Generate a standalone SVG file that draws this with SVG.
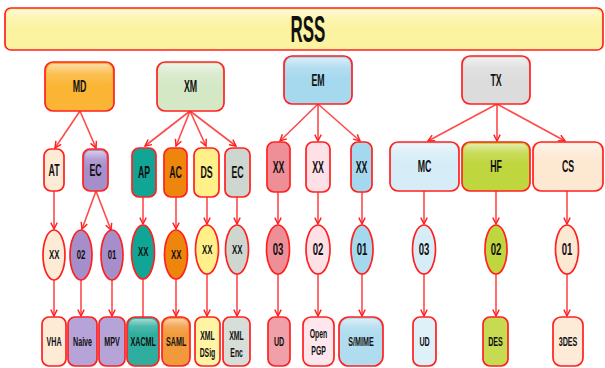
<svg xmlns="http://www.w3.org/2000/svg" width="605" height="368" viewBox="0 0 605 368">
<defs>
<linearGradient id="gloss" x1="0" y1="0" x2="0" y2="1">
<stop offset="0" stop-color="#fff" stop-opacity="0.55"/>
<stop offset="0.45" stop-color="#fff" stop-opacity="0.15"/>
<stop offset="1" stop-color="#fff" stop-opacity="0"/>
</linearGradient>
<marker id="ah" viewBox="0 0 10 10" refX="9" refY="5" markerWidth="8" markerHeight="8" markerUnits="userSpaceOnUse" orient="auto">
<path d="M1,1 L9,5 L1,9" fill="none" stroke="#ff2020" stroke-width="1.8"/>
</marker>
</defs>
<style>
.n{stroke:#ff2020;stroke-width:1.7}
.g{fill:url(#gloss);stroke:none}
text{font-family:"Liberation Sans",Arial,sans-serif;font-weight:bold;fill:#111;text-anchor:middle;transform-box:fill-box;transform-origin:center;transform:scaleX(0.55)}
.t1{font-size:16px}
.t2{font-size:16px;transform:scaleX(0.6)}
.t4{font-size:13px;transform:scaleX(0.6)}
.t3{font-size:13px}
.t5{font-size:12.5px}
.big{font-size:36px;transform:scaleX(0.47)}
#conn line{stroke:#ff2a2a;stroke-width:1.6;stroke-opacity:0.85}
</style>
<rect width="605" height="368" fill="#fff"/>

<g id="conn">
<line x1="80" y1="111" x2="55" y2="148" marker-end="url(#ah)"/>
<line x1="80" y1="111" x2="96" y2="148" marker-end="url(#ah)"/>
<line x1="190" y1="111" x2="145" y2="146" marker-end="url(#ah)"/>
<line x1="190" y1="111" x2="176" y2="146" marker-end="url(#ah)"/>
<line x1="190" y1="111" x2="206" y2="146" marker-end="url(#ah)"/>
<line x1="190" y1="111" x2="236" y2="146" marker-end="url(#ah)"/>
<line x1="318" y1="104" x2="280" y2="141" marker-end="url(#ah)"/>
<line x1="318" y1="104" x2="318" y2="141" marker-end="url(#ah)"/>
<line x1="318" y1="104" x2="360" y2="141" marker-end="url(#ah)"/>
<line x1="497" y1="104" x2="428" y2="141" marker-end="url(#ah)"/>
<line x1="497" y1="104" x2="497" y2="141" marker-end="url(#ah)"/>
<line x1="497" y1="104" x2="565" y2="141" marker-end="url(#ah)"/>
<line x1="54" y1="191" x2="54" y2="229" marker-end="url(#ah)"/>
<line x1="96" y1="191" x2="82" y2="229" marker-end="url(#ah)"/>
<line x1="96" y1="191" x2="111" y2="230" marker-end="url(#ah)"/>
<line x1="143" y1="197" x2="143" y2="224" marker-end="url(#ah)"/>
<line x1="176" y1="197" x2="176" y2="229" marker-end="url(#ah)"/>
<line x1="207" y1="197" x2="207" y2="224" marker-end="url(#ah)"/>
<line x1="237" y1="197" x2="237" y2="224" marker-end="url(#ah)"/>
<line x1="278" y1="192" x2="278" y2="224" marker-end="url(#ah)"/>
<line x1="318" y1="192" x2="318" y2="224" marker-end="url(#ah)"/>
<line x1="362" y1="192" x2="362" y2="224" marker-end="url(#ah)"/>
<line x1="424" y1="191" x2="424" y2="224" marker-end="url(#ah)"/>
<line x1="496" y1="191" x2="496" y2="224" marker-end="url(#ah)"/>
<line x1="567" y1="191" x2="567" y2="224" marker-end="url(#ah)"/>
<line x1="54" y1="280" x2="54" y2="316" marker-end="url(#ah)"/>
<line x1="81" y1="280" x2="81" y2="316" marker-end="url(#ah)"/>
<line x1="112" y1="280" x2="112" y2="316" marker-end="url(#ah)"/>
<line x1="143" y1="279" x2="143" y2="317"/>
<line x1="176" y1="279" x2="176" y2="316" marker-end="url(#ah)"/>
<line x1="207" y1="274" x2="207" y2="316" marker-end="url(#ah)"/>
<line x1="237" y1="274" x2="237" y2="316" marker-end="url(#ah)"/>
<line x1="278" y1="274" x2="278" y2="316" marker-end="url(#ah)"/>
<line x1="318" y1="274" x2="318" y2="316" marker-end="url(#ah)"/>
<line x1="362" y1="274" x2="362" y2="316" marker-end="url(#ah)"/>
<line x1="424" y1="274" x2="424" y2="316" marker-end="url(#ah)"/>
<line x1="496" y1="274" x2="496" y2="316" marker-end="url(#ah)"/>
<line x1="567" y1="274" x2="567" y2="316" marker-end="url(#ah)"/>
</g>

<g id="rss"><rect class="n" x="5" y="8" width="598" height="42" rx="6" fill="#fbf3a0"/><rect class="g" x="7" y="10" width="594" height="20" rx="5"/><text class="big" x="308" y="42">RSS</text></g>

<g id="md"><rect class="n" x="45" y="62" width="69" height="49" rx="8" fill="#fbb534"/><rect class="g" x="47" y="64" width="65" height="22" rx="6"/><text class="t1" x="79.5" y="92.5">MD</text></g>
<g id="xm"><rect class="n" x="157" y="62" width="67" height="49" rx="8" fill="#d4e8c6"/><rect class="g" x="159" y="64" width="63" height="22" rx="6"/><text class="t1" x="190.5" y="92.5">XM</text></g>
<g id="em"><rect class="n" x="284" y="56" width="68" height="48" rx="8" fill="#a6d8ee"/><rect class="g" x="286" y="58" width="64" height="22" rx="6"/><text class="t1" x="318" y="86">EM</text></g>
<g id="tx"><rect class="n" x="462" y="56" width="68" height="48" rx="8" fill="#dcdcdc"/><rect class="g" x="464" y="58" width="64" height="22" rx="6"/><text class="t1" x="496" y="86">TX</text></g>

<g id="at"><rect class="n" x="44" y="149" width="20" height="42" rx="7" fill="#fdebd6"/><text class="t1" x="54" y="176">AT</text></g>
<g id="ec1"><rect class="n" x="83" y="149" width="25" height="42" rx="7" fill="#a68ecb"/><rect class="g" x="85" y="151" width="21" height="18" rx="5"/><text class="t1" x="95.5" y="176">EC</text></g>
<g id="ap"><rect class="n" x="132" y="148" width="24" height="49" rx="7" fill="#10a594"/><text class="t1" x="144" y="178.5">AP</text></g>
<g id="ac"><rect class="n" x="164" y="148" width="23" height="49" rx="7" fill="#ee850c"/><text class="t1" x="175.5" y="178.5">AC</text></g>
<g id="ds"><rect class="n" x="194" y="148" width="25" height="49" rx="7" fill="#fff08a"/><text class="t1" x="206.5" y="178.5">DS</text></g>
<g id="ec2"><rect class="n" x="225" y="148" width="25" height="49" rx="7" fill="#cdd6cf"/><text class="t1" x="237.5" y="178.5">EC</text></g>
<g id="xx1"><rect class="n" x="267" y="142" width="23" height="50" rx="7" fill="#ee8e97"/><text class="t1" x="278.5" y="173">XX</text></g>
<g id="xx2"><rect class="n" x="306" y="142" width="24" height="50" rx="7" fill="#fde1e7"/><text class="t1" x="318" y="173">XX</text></g>
<g id="xx3"><rect class="n" x="351" y="142" width="21" height="50" rx="7" fill="#a4d8ef"/><text class="t1" x="361.5" y="173">XX</text></g>
<g id="mc"><rect class="n" x="390" y="142" width="69" height="49" rx="8" fill="#d6edf7"/><rect class="g" x="392" y="144" width="65" height="20" rx="6"/><text class="t1" x="424.5" y="172.5">MC</text></g>
<g id="hf"><rect class="n" x="462" y="142" width="68" height="49" rx="8" fill="#bfd63e"/><rect class="g" x="464" y="144" width="64" height="20" rx="6"/><text class="t1" x="496" y="172.5">HF</text></g>
<g id="cs"><rect class="n" x="533" y="142" width="70" height="49" rx="8" fill="#fde8d2"/><rect class="g" x="535" y="144" width="66" height="20" rx="6"/><text class="t1" x="568" y="172.5">CS</text></g>

<g id="e1"><ellipse class="n" cx="54" cy="255" rx="11" ry="25" fill="#fdebd6"/><text class="t4" x="54" y="259.5">XX</text></g>
<g id="e2"><ellipse class="n" cx="81" cy="255" rx="11" ry="25" fill="#a68ecb"/><text class="t4" x="81" y="259.5">02</text></g>
<g id="e3"><ellipse class="n" cx="112" cy="255" rx="11" ry="25" fill="#a68ecb"/><text class="t4" x="112" y="259.5">01</text></g>
<g id="e4"><ellipse class="n" cx="143" cy="252" rx="11.5" ry="27" fill="#10a594"/><text class="t4" x="143" y="256.5">XX</text></g>
<g id="e5"><ellipse class="n" cx="176" cy="254.5" rx="11.5" ry="24.5" fill="#ee850c"/><text class="t4" x="176" y="259">XX</text></g>
<g id="e6"><ellipse class="n" cx="207" cy="249.5" rx="11.5" ry="24.5" fill="#fff08a"/><text class="t4" x="207" y="254">XX</text></g>
<g id="e7"><ellipse class="n" cx="237" cy="249.5" rx="11.5" ry="24.5" fill="#cdd6cf"/><text class="t4" x="237" y="254">XX</text></g>
<g id="e8"><ellipse class="n" cx="278" cy="249.5" rx="11.5" ry="24.5" fill="#ee8e97"/><text class="t2" x="278" y="255.5">03</text></g>
<g id="e9"><ellipse class="n" cx="318" cy="249.5" rx="12" ry="24.5" fill="#fde1e7"/><text class="t2" x="318" y="255.5">02</text></g>
<g id="e10"><ellipse class="n" cx="362" cy="249.5" rx="11" ry="24.5" fill="#a4d8ef"/><text class="t2" x="362" y="255.5">01</text></g>
<g id="e11"><ellipse class="n" cx="424" cy="249.5" rx="11.5" ry="24.5" fill="#d6edf7"/><text class="t2" x="424" y="255.5">03</text></g>
<g id="e12"><ellipse class="n" cx="496" cy="249.5" rx="11" ry="24.5" fill="#bfd63e"/><text class="t2" x="496" y="255.5">02</text></g>
<g id="e13"><ellipse class="n" cx="567" cy="249.5" rx="11.5" ry="24.5" fill="#fde8d2"/><text class="t2" x="567" y="255.5">01</text></g>

<g id="vha"><rect class="n" x="42" y="317" width="24" height="49" rx="7" fill="#fdebd6"/><text class="t3" x="54" y="346.5">VHA</text></g>
<g id="naive"><rect class="n" x="68" y="317" width="29" height="49" rx="7" fill="#b6a3d8"/><text class="t3" x="82.5" y="346.5">Naive</text></g>
<g id="mpv"><rect class="n" x="99" y="317" width="26" height="49" rx="7" fill="#b6a3d8"/><text class="t3" x="112" y="346.5">MPV</text></g>
<g id="xacml"><rect class="n" x="127" y="317" width="32" height="49" rx="8" fill="#2fae9f"/><rect class="g" x="129" y="319" width="28" height="16" rx="6"/><text class="t3" x="143" y="346.5">XACML</text></g>
<g id="saml"><rect class="n" x="162" y="317" width="28" height="49" rx="8" fill="#f19a3c"/><rect class="g" x="164" y="319" width="24" height="16" rx="6"/><text class="t3" x="176" y="346.5">SAML</text></g>
<g id="xmldsig"><rect class="n" x="195" y="317" width="25" height="49" rx="7" fill="#fff3a4"/><text class="t5" x="207.5" y="340">XML</text><text class="t5" x="207.5" y="357">DSig</text></g>
<g id="xmlenc"><rect class="n" x="223" y="317" width="27" height="49" rx="7" fill="#d7ded9"/><text class="t5" x="236.5" y="340">XML</text><text class="t5" x="236.5" y="357">Enc</text></g>
<g id="ud1"><rect class="n" x="268" y="317" width="22" height="49" rx="7" fill="#f0a0a8"/><text class="t3" x="279" y="346.5">UD</text></g>
<g id="openpgp"><rect class="n" x="303" y="317" width="31" height="49" rx="8" fill="#fde7ec"/><text class="t5" x="318.5" y="338">Open</text><text class="t5" x="318.5" y="355">PGP</text></g>
<g id="smime"><rect class="n" x="339" y="317" width="44" height="49" rx="10" fill="#b0dcef"/><rect class="g" x="341" y="319" width="40" height="16" rx="8"/><text class="t3" x="361" y="346.5">S/MIME</text></g>
<g id="ud2"><rect class="n" x="413" y="317" width="23" height="49" rx="7" fill="#def0f8"/><text class="t3" x="424.5" y="346.5">UD</text></g>
<g id="des"><rect class="n" x="483" y="317" width="25" height="49" rx="7" fill="#c6da52"/><text class="t3" x="495.5" y="346.5">DES</text></g>
<g id="3des"><rect class="n" x="553" y="317" width="30" height="49" rx="8" fill="#fdebd8"/><text class="t3" x="568" y="346.5">3DES</text></g>
</svg>
